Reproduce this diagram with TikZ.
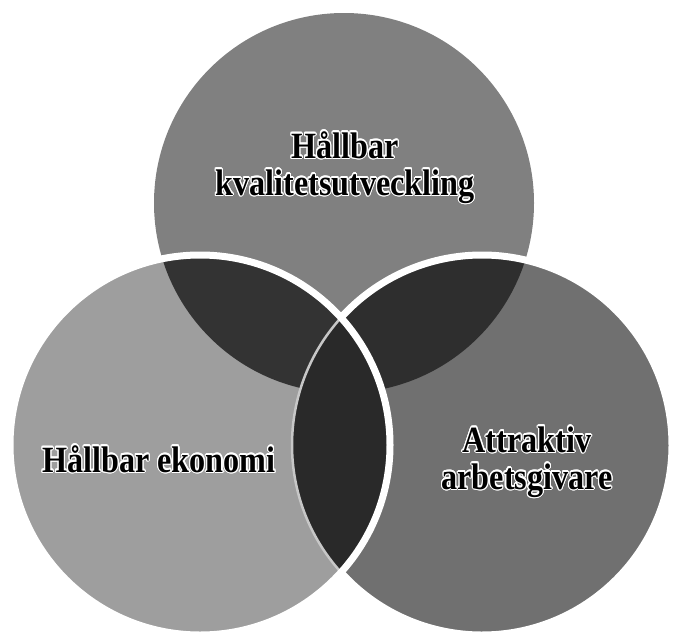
\documentclass[tikz,border=0pt]{standalone}
\usepackage{fontspec}
\newfontfamily\vennfont[FakeStretch=0.87]{Liberation Serif}
\usepackage{contour}
\contourlength{1.1pt}
\contournumber{16}
\begin{document}
\begin{tikzpicture}[x=1pt,y=-1pt,
  vennlabel/.style={font=\vennfont\bfseries\fontsize{37}{37}\selectfont, align=center, text=black, inner sep=0pt}]
  \useasboundingbox (0,0) rectangle (674,637);
  % centres of the three circles
  \coordinate (top) at (344,203);
  \coordinate (left) at (200,445);
  \coordinate (right) at (482,445);

  % plain discs
  \fill[black!50] (top) circle (190pt);
  \fill[black!56] (right) circle (190pt);
  \fill[black!38] (left) circle (190pt);

  % overlaps
  \begin{scope}
    \clip (top) circle (190pt);
    \fill[black!80] (left) circle (190pt);
    \fill[black!82] (right) circle (190pt);
  \end{scope}
  \begin{scope}
    \clip (left) circle (190pt);
    \fill[black!84] (right) circle (190pt);
  \end{scope}

  % outlines
  \draw[white, line width=7pt] (right) ++(-138:190pt) arc[start angle=-138, end angle=138, radius=190pt];
  \draw[black!22, line width=2.5pt] (right) ++(138:190pt) arc[start angle=138, end angle=222, radius=190pt];
  \draw[white, line width=7pt] (left) circle (190pt);

  % texts
  \node[vennlabel, anchor=base] (quality) at (345,195) {\contour{white}{Hållbar}\\\contour{white}{kvalitetsutveckling}};
  \node[vennlabel, anchor=base] (economy) at (159,472) {\contour{white}{Hållbar ekonomi}};
  \node[vennlabel, anchor=base] (employer) at (527,489) {\contour{white}{Attraktiv}\\\contour{white}{arbetsgivare}};
\end{tikzpicture}
\end{document}
